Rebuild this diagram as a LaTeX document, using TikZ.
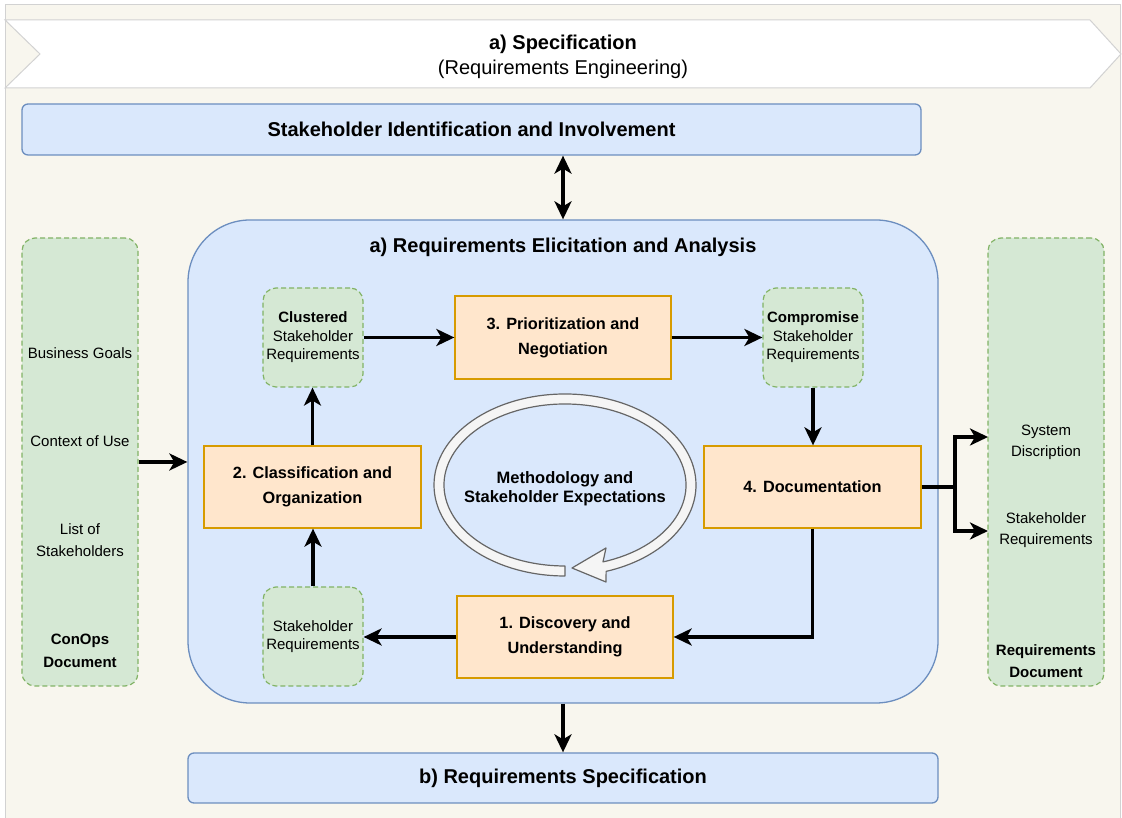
\documentclass[tikz,border=0pt]{standalone}
\usepackage{fontspec}
\setmainfont{Liberation Sans}
\usetikzlibrary{arrows.meta}

\definecolor{pagebg}{HTML}{F8F6EE}
\definecolor{framegray}{HTML}{D2D2D2}
\definecolor{blueF}{HTML}{DAE8FC}
\definecolor{blueD}{HTML}{6C8EBF}
\definecolor{greenF}{HTML}{D5E8D4}
\definecolor{greenD}{HTML}{82B366}
\definecolor{orangeF}{HTML}{FFE6CC}
\definecolor{orangeD}{HTML}{D79B00}
\definecolor{ringF}{HTML}{F5F5F5}
\definecolor{ringD}{HTML}{666666}

\begin{document}
\begin{tikzpicture}[x=1pt,y=1pt,
  bluebox/.style={draw=blueD, fill=blueF, line width=1.3pt, rounded corners=6pt, inner sep=0pt},
  stepbox/.style={draw=orangeD, fill=orangeF, line width=1.3pt, inner sep=0pt, align=center,
    font=\bfseries\fontsize{16.3}{25}\selectfont},
  greenbox/.style={draw=greenD, fill=greenF, line width=1.2pt, dash pattern=on 5pt off 3pt,
    rounded corners=13pt, inner sep=0pt},
  smalltext/.style={align=center, font=\fontsize{15}{18.5}\selectfont},
  sidetext/.style={align=center, font=\fontsize{15}{22.5}\selectfont},
  titletext/.style={font=\bfseries\fontsize{20}{25}\selectfont},
  tip/.style={Stealth[length=18pt,width=17pt,inset=5pt]},
  conn/.style={line width=3.2pt, -{Stealth[length=18pt,width=17pt,inset=5pt]}},
  dconn/.style={line width=3.2pt, {Stealth[length=18pt,width=17pt,inset=5pt]}-{Stealth[length=18pt,width=17pt,inset=5pt]}}
]
\useasboundingbox (0,0) rectangle (1122,818);

% page background
\fill[white] (0,0) rectangle (1122,818);
\draw[framegray, fill=pagebg, line width=1pt] (5,-2) rectangle (1120,813);

% banner
\draw[framegray, fill=white, line width=1pt]
  (5,798) -- (1090,798) -- (1121,764) -- (1090,730) -- (5,730) -- (40,764) -- cycle;
\node[align=center, font=\fontsize{20}{25}\selectfont] (banner) at (563,761)
  {\textbf{a) Specification}\\(Requirements Engineering)};

% stakeholder identification
\node[bluebox, minimum width=899, minimum height=51, titletext] (sid) at (471.5,688.5)
  {Stakeholder Identification and Involvement};

% elicitation and analysis container
\node[bluebox, rounded corners=62pt, minimum width=750, minimum height=483] (big) at (563,356.5) {};
\node[titletext] (bigtitle) at (563,571) {a) Requirements Elicitation and Analysis};

% requirements specification
\node[bluebox, minimum width=750, minimum height=50, titletext] (spec) at (563,40)
  {b) Requirements Specification};

% side documents
\node[greenbox, minimum width=116, minimum height=448] (conops) at (80,356) {};
\node[sidetext] (bgoals) at (80,465) {Business Goals};
\node[sidetext] (ctx) at (80,377) {Context of Use};
\node[sidetext] (lst) at (80,278) {List of\\Stakeholders};
\node[sidetext, font=\bfseries\fontsize{15}{23}\selectfont] (conopsT) at (80,167) {ConOps\\Document};

\node[greenbox, minimum width=116, minimum height=448] (reqdoc) at (1046,356) {};
\node[sidetext, font=\fontsize{15}{21}\selectfont] (sysd) at (1046,376) {System\\Discription};
\node[sidetext, font=\fontsize{15}{21}\selectfont] (shr) at (1046,288) {Stakeholder\\Requirements};
\node[sidetext, font=\bfseries\fontsize{15}{22}\selectfont] (reqdocT) at (1046,157) {Requirements\\Document};

% process steps
\node[stepbox, minimum width=217, minimum height=82] (s2) at (312.5,331) {2. Classification and\\Organization};
\node[stepbox, minimum width=216, minimum height=83] (s3) at (563,480.5) {3. Prioritization and\\Negotiation};
\node[stepbox, minimum width=217, minimum height=82] (s4) at (812.5,331) {4. Documentation};
\node[stepbox, minimum width=216, minimum height=82] (s1) at (565,181) {1. Discovery and\\Understanding};

% intermediate artefacts
\node[greenbox, minimum width=100, minimum height=99, smalltext] (clu) at (313,480.5)
  {\textbf{Clustered}\\Stakeholder\\Requirements};
\node[greenbox, minimum width=100, minimum height=99, smalltext] (comp) at (813,480.5)
  {\textbf{Compromise}\\Stakeholder\\Requirements};
\node[greenbox, minimum width=100, minimum height=99, smalltext] (sreq) at (313,181.5)
  {Stakeholder\\Requirements};

% iteration ring
\draw[ringD, fill=ringF, line width=1.2pt, line join=round]
  (565,242) arc[start angle=270, end angle=-71.7, x radius=131, y radius=91]
  -- (606,236) -- (572,250) -- (606,270) -- (603,256.1)
  arc[start angle=-71.7, end angle=270, x radius=121, y radius=81] -- cycle;
\node[align=center, font=\bfseries\fontsize{16.5}{19}\selectfont] (ringT) at (565,329)
  {Methodology and\\Stakeholder Expectations};

% connectors
\draw[dconn] (big.north |- sid.south) -- (big.north);
\draw[conn] (big.south) -- (spec.north);
\draw[conn] (conops.east) -- (big.west |- conops.east);
\draw[conn] (clu.east) -- (s3.west);
\draw[conn] (s3.east) -- (comp.west);
\draw[conn] (comp.south) -- (comp.south |- s4.north);
\draw[conn] (s4.south) |- (s1.east);
\draw[conn] (s1.west) -- (sreq.east |- s1.west);
\draw[conn] (sreq.north) -- (sreq.north |- s2.south);
\draw[conn] (s2.north) -- (s2.north |- clu.south);

\coordinate (split) at (955,331);
\coordinate (toSys) at (988,381);
\coordinate (toShr) at (988,287);
\draw[line width=3.2pt] (s4.east) -- (split);
\draw[conn] (split) |- (toSys);
\draw[conn] (split) |- (toShr);
\end{tikzpicture}
\end{document}
